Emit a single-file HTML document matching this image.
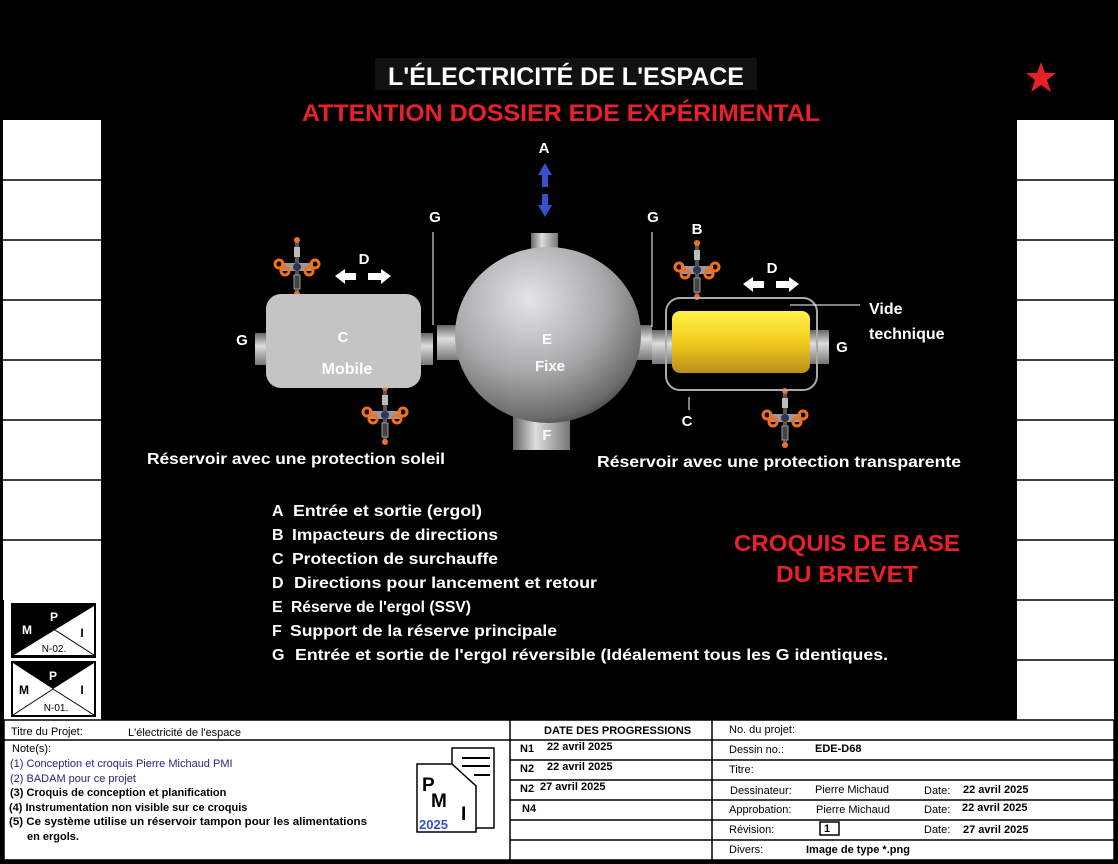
<!DOCTYPE html>
<html><head><meta charset="utf-8">
<style>
*{margin:0;padding:0;box-sizing:border-box}
body{width:1118px;height:864px;background:#fff;overflow:hidden;font-family:"Liberation Sans",sans-serif}
svg{position:absolute;left:0;top:0}
</style></head><body>
<svg width="1118" height="864" viewBox="0 0 1118 864" font-family="Liberation Sans, sans-serif">
<defs>
<radialGradient id="sph" cx="0.4" cy="0.3" r="0.75">
<stop offset="0" stop-color="#e2e4e8"/><stop offset="0.55" stop-color="#a9a9ab"/><stop offset="0.9" stop-color="#6a6a6a"/><stop offset="1" stop-color="#444"/>
</radialGradient>
<linearGradient id="pipeV" x1="0" x2="1" y1="0" y2="0"><stop offset="0" stop-color="#666"/><stop offset="0.4" stop-color="#ddd"/><stop offset="1" stop-color="#777"/></linearGradient>
<linearGradient id="pipeH" x1="0" x2="0" y1="0" y2="1"><stop offset="0" stop-color="#666"/><stop offset="0.4" stop-color="#ddd"/><stop offset="1" stop-color="#777"/></linearGradient>
<linearGradient id="yel" x1="0" x2="0" y1="0" y2="1"><stop offset="0" stop-color="#fff24a"/><stop offset="0.5" stop-color="#f2cc1c"/><stop offset="1" stop-color="#b88f1c"/></linearGradient>
<g id="thr">
<rect x="-2" y="-26" width="4" height="52" fill="#555"/>
<rect x="-3" y="-20" width="6" height="10" fill="#bbb"/>
<circle cx="0" cy="-27" r="3" fill="#f07020"/>
<circle cx="0" cy="27" r="3" fill="#f07020"/>
<rect x="-16" y="-4" width="32" height="8" fill="#999"/>
<circle cx="0" cy="0" r="4" fill="#335"/>
<circle cx="-18" cy="-3" r="4" fill="none" stroke="#f07020" stroke-width="3"/>
<circle cx="18" cy="-3" r="4" fill="none" stroke="#f07020" stroke-width="3"/>
<circle cx="-12" cy="4" r="4" fill="none" stroke="#f07020" stroke-width="3"/>
<circle cx="12" cy="4" r="4" fill="none" stroke="#f07020" stroke-width="3"/>
<rect x="-3" y="8" width="6" height="14" fill="#444" stroke="#999" stroke-width="1"/>
</g>
</defs>
<rect x="0" y="0" width="1118" height="864" fill="#000"/>
<rect x="3" y="120" width="98" height="480" fill="#fff"/>
<rect x="1017" y="120" width="97" height="600" fill="#fff"/>
<g stroke="#000" stroke-width="1.5">
<line x1="3" y1="180" x2="101" y2="180"/><line x1="3" y1="240" x2="101" y2="240"/><line x1="3" y1="300" x2="101" y2="300"/><line x1="3" y1="360" x2="101" y2="360"/><line x1="3" y1="420" x2="101" y2="420"/><line x1="3" y1="480" x2="101" y2="480"/><line x1="3" y1="540" x2="101" y2="540"/>
<line x1="1017" y1="180" x2="1114" y2="180"/><line x1="1017" y1="240" x2="1114" y2="240"/><line x1="1017" y1="300" x2="1114" y2="300"/><line x1="1017" y1="360" x2="1114" y2="360"/><line x1="1017" y1="420" x2="1114" y2="420"/><line x1="1017" y1="480" x2="1114" y2="480"/><line x1="1017" y1="540" x2="1114" y2="540"/><line x1="1017" y1="600" x2="1114" y2="600"/><line x1="1017" y1="660" x2="1114" y2="660"/>
</g>
<g>
<rect x="4" y="600" width="97" height="120" fill="#fff"/>
<rect x="11" y="603" width="85" height="55" fill="#000"/>
<polygon points="14,655 94,606 94,655" fill="#fff"/>
<line x1="55" y1="630" x2="94" y2="655" stroke="#000"/>
<text x="54" y="621" font-size="12" font-weight="bold" fill="#fff" text-anchor="middle">P</text>
<text x="27" y="634" font-size="12" font-weight="bold" fill="#fff" text-anchor="middle">M</text>
<text x="82" y="637" font-size="12" font-weight="bold" fill="#000" text-anchor="middle">I</text>
<text x="54" y="652" font-size="10" fill="#000" text-anchor="middle">N-02.</text>
<rect x="11" y="661" width="85" height="56" fill="#000"/>
<rect x="13" y="663" width="81" height="52" fill="#fff"/>
<polygon points="13,663 94,663 53,689" fill="#000"/>
<line x1="53" y1="689" x2="13" y2="715" stroke="#000"/><line x1="53" y1="689" x2="94" y2="715" stroke="#000"/>
<text x="53" y="680" font-size="12" font-weight="bold" fill="#fff" text-anchor="middle">P</text>
<text x="24" y="694" font-size="12" font-weight="bold" fill="#000" text-anchor="middle">M</text>
<text x="82" y="694" font-size="12" font-weight="bold" fill="#000" text-anchor="middle">I</text>
<text x="56" y="711" font-size="10" fill="#000" text-anchor="middle">N-01.</text>
</g>
<rect x="375" y="58" width="382" height="32" fill="#111"/>
<text x="566" y="85" font-size="25" font-weight="bold" fill="#fff" text-anchor="middle" textLength="356" lengthAdjust="spacingAndGlyphs">L'ÉLECTRICITÉ DE L'ESPACE</text>
<text x="561" y="121" font-size="24" font-weight="bold" fill="#e8202a" text-anchor="middle" textLength="518" lengthAdjust="spacingAndGlyphs">ATTENTION DOSSIER EDE EXPÉRIMENTAL</text>
<polygon points="1041,62 1045,73 1056,73 1047,80 1051,92 1041,85 1031,92 1035,80 1026,73 1037,73" fill="#e8202a"/>
<text x="544" y="153" font-size="15" font-weight="bold" fill="#fff" text-anchor="middle">A</text>
<polygon points="545,163 552,175 548,175 548,187 542,187 542,175 538,175" fill="#3a4fd0"/>
<polygon points="545,217 552,205 548,205 548,194 542,194 542,205 538,205" fill="#3a4fd0"/>
<rect x="531" y="233" width="27" height="24" fill="url(#pipeV)"/>
<rect x="513" y="410" width="57" height="40" fill="url(#pipeV)"/>
<rect x="437" y="325" width="22" height="35" fill="url(#pipeH)"/>
<rect x="628" y="325" width="24" height="35" fill="url(#pipeH)"/>
<ellipse cx="548" cy="335" rx="93" ry="88" fill="url(#sph)"/>
<text x="547" y="344" font-size="15" font-weight="bold" fill="#fff" text-anchor="middle">E</text>
<text x="550" y="371" font-size="15" font-weight="bold" fill="#fff" text-anchor="middle">Fixe</text>
<text x="547" y="440" font-size="15" font-weight="bold" fill="#fff" text-anchor="middle">F</text>
<rect x="255" y="333" width="14" height="32" fill="url(#pipeH)"/>
<rect x="418" y="333" width="15" height="32" fill="url(#pipeH)"/>
<use href="#thr" x="297" y="267"/>
<use href="#thr" x="385" y="415"/>
<rect x="266" y="294" width="155" height="94" rx="15" fill="#c4c4c4"/>
<text x="343" y="342" font-size="15" font-weight="bold" fill="#fff" text-anchor="middle">C</text>
<text x="347" y="374" font-size="16" font-weight="bold" fill="#fff" text-anchor="middle">Mobile</text>
<text x="242" y="345" font-size="15" font-weight="bold" fill="#fff" text-anchor="middle">G</text>
<text x="364" y="264" font-size="15" font-weight="bold" fill="#fff" text-anchor="middle">D</text>
<polygon points="335,276 345,269 345,273 356,273 356,280 345,280 345,284" fill="#fff"/>
<polygon points="391,276 381,269 381,273 368,273 368,280 381,280 381,284" fill="#fff"/>
<line x1="433" y1="232" x2="433" y2="325" stroke="#fff" stroke-width="1"/>
<text x="435" y="222" font-size="15" font-weight="bold" fill="#fff" text-anchor="middle">G</text>
<rect x="652" y="330" width="22" height="34" fill="url(#pipeH)"/>
<rect x="805" y="330" width="24" height="34" fill="url(#pipeH)"/>
<use href="#thr" x="697" y="270"/>
<use href="#thr" x="785" y="418"/>
<rect x="672" y="311" width="138" height="62" rx="8" fill="url(#yel)"/>
<rect x="666" y="298" width="151" height="92" rx="14" fill="none" stroke="#aaa" stroke-width="2"/>
<line x1="652" y1="232" x2="652" y2="327" stroke="#fff" stroke-width="1"/>
<text x="653" y="222" font-size="15" font-weight="bold" fill="#fff" text-anchor="middle">G</text>
<text x="697" y="234" font-size="15" font-weight="bold" fill="#fff" text-anchor="middle">B</text>
<text x="772" y="273" font-size="15" font-weight="bold" fill="#fff" text-anchor="middle">D</text>
<polygon points="743,284 753,277 753,281 764,281 764,288 753,288 753,292" fill="#fff"/>
<polygon points="799,284 789,277 789,281 776,281 776,288 789,288 789,292" fill="#fff"/>
<line x1="790" y1="305" x2="860" y2="305" stroke="#fff" stroke-width="1"/>
<text x="869" y="314" font-size="16" font-weight="bold" fill="#fff">Vide</text>
<text x="869" y="339" font-size="16" font-weight="bold" fill="#fff">technique</text>
<text x="842" y="352" font-size="15" font-weight="bold" fill="#fff" text-anchor="middle">G</text>
<line x1="689" y1="397" x2="689" y2="410" stroke="#fff" stroke-width="1"/>
<text x="687" y="426" font-size="15" font-weight="bold" fill="#fff" text-anchor="middle">C</text>
<text x="147" y="464" font-size="15.5" font-weight="bold" fill="#fff" textLength="298" lengthAdjust="spacingAndGlyphs">Réservoir avec une protection soleil</text>
<text x="597" y="467" font-size="15.5" font-weight="bold" fill="#fff" textLength="364" lengthAdjust="spacingAndGlyphs">Réservoir avec une protection transparente</text>
<g font-size="16" font-weight="bold" fill="#fff">
<text x="272" y="516">A</text><text x="293" y="516" textLength="189" lengthAdjust="spacingAndGlyphs">Entrée et sortie (ergol)</text>
<text x="272" y="540">B</text><text x="292" y="540" textLength="206" lengthAdjust="spacingAndGlyphs">Impacteurs de directions</text>
<text x="272" y="564">C</text><text x="292" y="564" textLength="206" lengthAdjust="spacingAndGlyphs">Protection de surchauffe</text>
<text x="272" y="588">D</text><text x="294" y="588" textLength="303" lengthAdjust="spacingAndGlyphs">Directions pour lancement et retour</text>
<text x="272" y="612">E</text><text x="291" y="612" textLength="180" lengthAdjust="spacingAndGlyphs">Réserve de l'ergol (SSV)</text>
<text x="272" y="636">F</text><text x="290" y="636" textLength="267" lengthAdjust="spacingAndGlyphs">Support de la réserve principale</text>
<text x="272" y="660">G</text><text x="295" y="660" textLength="593" lengthAdjust="spacingAndGlyphs">Entrée et sortie de l'ergol réversible (Idéalement tous les G identiques.</text>
</g>
<text x="847" y="551" font-size="23" font-weight="bold" fill="#e8202a" text-anchor="middle" textLength="226" lengthAdjust="spacingAndGlyphs">CROQUIS DE BASE</text>
<text x="847" y="582" font-size="23" font-weight="bold" fill="#e8202a" text-anchor="middle" textLength="142" lengthAdjust="spacingAndGlyphs">DU BREVET</text>
<rect x="4" y="720" width="1110" height="140" fill="#fff"/>
<g stroke="#000" stroke-width="1.5" fill="none">
<line x1="4" y1="740" x2="510" y2="740"/>
<line x1="510" y1="720" x2="510" y2="860"/>
<line x1="712" y1="720" x2="712" y2="860"/>
<line x1="510" y1="740" x2="1114" y2="740"/>
<line x1="510" y1="760" x2="1114" y2="760"/>
<line x1="510" y1="780" x2="1114" y2="780"/>
<line x1="510" y1="800" x2="1114" y2="800"/>
<line x1="510" y1="820" x2="1114" y2="820"/>
<line x1="510" y1="840" x2="1114" y2="840"/>
<rect x="4" y="720" width="1110" height="140"/>
</g>
<g font-size="11" fill="#000">
<text x="11" y="735">Titre du Projet:</text>
<text x="128" y="736">L'électricité de l'espace</text>
<text x="12" y="752">Note(s):</text>
<text x="10" y="767" fill="#302080">(1) Conception et croquis Pierre Michaud PMI</text>
<text x="10" y="782" fill="#302080">(2) BADAM pour ce projet</text>
<g font-weight="bold">
<text x="10" y="796">(3) Croquis de conception et planification</text>
<text x="9" y="811">(4) Instrumentation non visible sur ce croquis</text>
<text x="9" y="825" textLength="358" lengthAdjust="spacingAndGlyphs">(5) Ce système utilise un réservoir tampon pour les alimentations</text>
<text x="27" y="840">en ergols.</text>
<text x="544" y="734">DATE DES PROGRESSIONS</text>
<text x="520" y="752">N1</text><text x="547" y="750">22 avril 2025</text>
<text x="520" y="772">N2</text><text x="547" y="770">22 avril 2025</text>
<text x="520" y="792">N2</text><text x="540" y="790">27 avril 2025</text>
<text x="522" y="812">N4</text>
<text x="815" y="752">EDE-D68</text>
<text x="963" y="793">22 avril 2025</text>
<text x="962" y="811">22 avril 2025</text>
<text x="963" y="833">27 avril 2025</text>
<text x="806" y="853">Image de type *.png</text>
<text x="824" y="832">1</text>
</g>
<text x="729" y="733">No. du projet:</text>
<text x="729" y="753">Dessin no.:</text>
<text x="729" y="773">Titre:</text>
<text x="730" y="794">Dessinateur:</text><text x="815" y="793">Pierre Michaud</text><text x="924" y="794">Date:</text>
<text x="729" y="813">Approbation:</text><text x="816" y="813">Pierre Michaud</text><text x="924" y="813">Date:</text>
<text x="729" y="833">Révision:</text><text x="924" y="833">Date:</text>
<text x="729" y="853">Divers:</text>
</g>
<rect x="820" y="822" width="19" height="13" fill="none" stroke="#000" stroke-width="1.5"/>
<g>
<rect x="452" y="748" width="42" height="80" fill="#fff" stroke="#000" stroke-width="1.5"/>
<line x1="462" y1="758" x2="490" y2="758" stroke="#000" stroke-width="2"/>
<line x1="462" y1="766" x2="490" y2="766" stroke="#000" stroke-width="2"/>
<line x1="474" y1="775" x2="490" y2="775" stroke="#000" stroke-width="2"/>
<polygon points="417,764 452,764 476,786 476,832 417,832" fill="#fff" stroke="#000" stroke-width="1.5"/>
<text x="422" y="791" font-size="19" font-weight="bold" fill="#000">P</text>
<text x="431" y="807" font-size="19" font-weight="bold" fill="#000">M</text>
<text x="461" y="820" font-size="19" font-weight="bold" fill="#000">I</text>
<text x="419" y="829" font-size="13" font-weight="bold" fill="#3a4fd0">2025</text>
</g>
</svg>
</body></html>
